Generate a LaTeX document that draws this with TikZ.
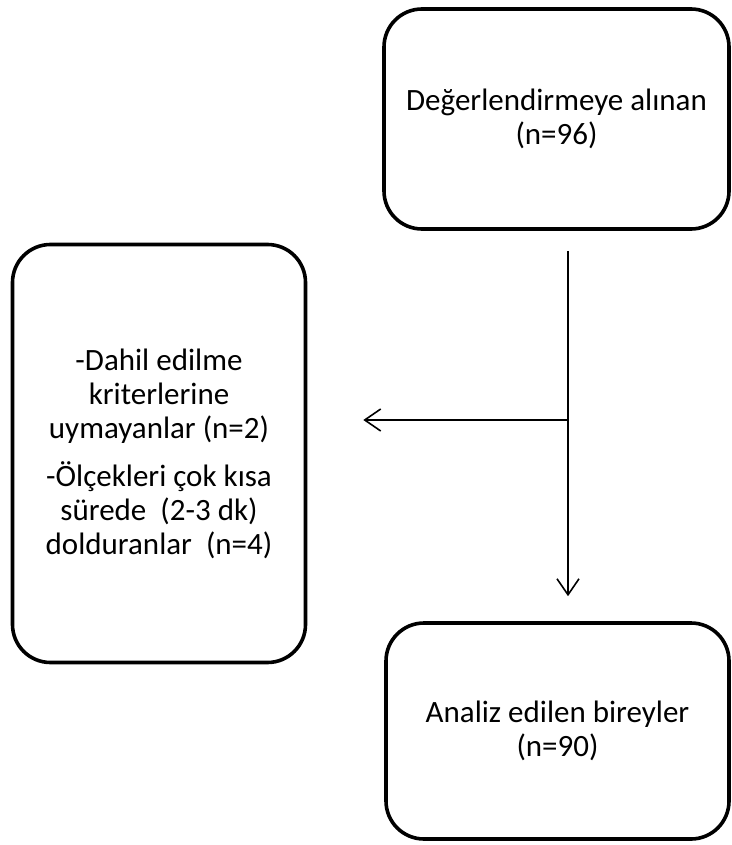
\documentclass[tikz,border=0pt]{standalone}
\usepackage{fontspec}
\setmainfont{Carlito}
\usetikzlibrary{arrows.meta}
\tikzset{
  flowbox/.style={draw=black, line width=3.6pt, rounded corners=38pt, inner sep=0pt,
    align=center, font=\fontsize{31}{34}\selectfont, text=black},
  flowarrow/.style={line width=1.6pt, -{Straight Barb[length=16pt, width=22pt, line width=1.6pt]}},
  flowline/.style={line width=1.6pt}
}
\begin{document}
\begin{tikzpicture}[x=1pt, y=-1pt]
\useasboundingbox (0,0) rectangle (731,845);
\node[flowbox, minimum width=345pt, minimum height=220pt] (top) at (556.5,119) {Değerlendirmeye alınan\\(n=96)};
\node[flowbox, minimum width=293pt, minimum height=418pt] (left) at (159,453.5) {-Dahil edilme\\kriterlerine\\uymayanlar (n=2)\\[14pt]-Ölçekleri çok kısa\\sürede \ (2-3 dk)\\dolduranlar \ (n=4)};
\node[flowbox, minimum width=343pt, minimum height=216pt] (bottom) at (557.5,731) {Analiz edilen bireyler\\(n=90)};
\coordinate (j) at (568,420);
\draw[flowline] ([yshift=-20pt]top.south -| j) -- (j);
\draw[flowarrow, shorten >=25pt] (j) -- (bottom.north -| j);
\draw[flowarrow, shorten >=56pt] (j) -- (j -| left.east);
\end{tikzpicture}
\end{document}
